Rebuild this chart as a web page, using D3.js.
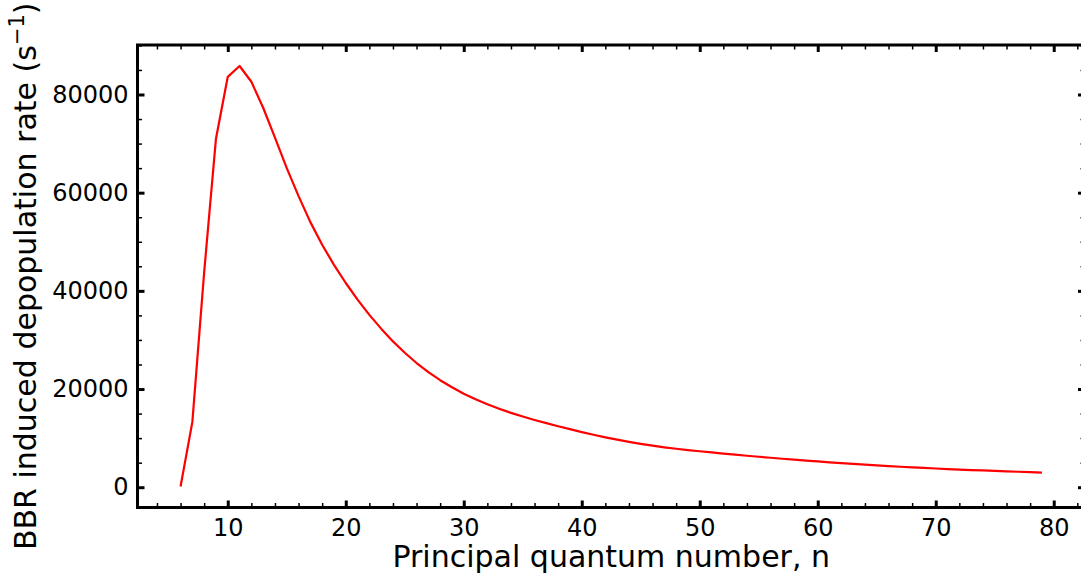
<!DOCTYPE html>
<html>
<head>
<meta charset="utf-8">
<script src="https://cdn.jsdelivr.net/npm/d3@7"></script>
<style>
  html, body { margin: 0; padding: 0; background: #fff; }
  svg { display: block; }
  text { font-family: "DejaVu Sans", sans-serif; fill: #000; }
</style>
</head>
<body>
<svg id="chart" width="1081" height="582"></svg>
<script>
// Principal quantum number n
const nValues = [
  6, 7, 8, 9, 10, 11, 12, 13, 14, 15, 16, 17, 18, 19, 20,
  21, 22, 23, 24, 25, 26, 27, 28, 29, 30, 31, 32, 33, 34, 35,
  36, 37, 38, 39, 40, 41, 42, 43, 44, 45, 46, 47, 48, 49, 50,
  51, 52, 53, 54, 55, 56, 57, 58, 59, 60, 61, 62, 63, 64, 65,
  66, 67, 68, 69, 70, 71, 72, 73, 74, 75, 76, 77, 78, 79
];
// Black-body-radiation induced depopulation rate, s^-1
const bbrRate = [
  150, 13300, 43800, 71000, 83600, 85800, 82600, 77300, 71200, 65000, 59300, 54000, 49400, 45300, 41600,
  38200, 35100, 32300, 29700, 27400, 25300, 23450, 21800, 20350, 19050, 17900, 16900, 16000, 15150, 14400,
  13700, 13050, 12420, 11820, 11230, 10680, 10160, 9690, 9240, 8830, 8460, 8130, 7830, 7560, 7320,
  7080, 6850, 6630, 6410, 6200, 6000, 5800, 5610, 5430, 5250, 5070, 4910, 4750, 4590, 4440,
  4300, 4170, 4040, 3920, 3810, 3700, 3600, 3500, 3410, 3320, 3230, 3150, 3070, 2990
];
const xMajorTicks = [10, 20, 30, 40, 50, 60, 70, 80];
const yMajorTicks = [0, 20000, 40000, 60000, 80000];
const xLabel = "Principal quantum number, n";
const yLabel = "BBR induced depopulation rate (s";
const yLabelSup = "\u22121";

const svg = d3.select("#chart");
const plotL = 137.5, plotR = 1085, plotT = 45, plotB = 507.5;

// 5% padding around the data extent on both axes
function padded(ext) {
  const p = (ext[1] - ext[0]) * 0.05;
  return [ext[0] - p, ext[1] + p];
}
const x = d3.scaleLinear().domain(padded(d3.extent(nValues))).range([plotL, plotR]);
const y = d3.scaleLinear().domain(padded(d3.extent(bbrRate))).range([plotB, plotT]);

const xMinor = d3.range(0, 84, 2).filter(v => v % 10 !== 0 && v >= x.domain()[0] && v <= x.domain()[1]);
const yMinor = d3.range(0, 95000, 5000).filter(v => v % 20000 !== 0 && v >= y.domain()[0] && v <= y.domain()[1]);

const majorLen = 7, minorLen = 4.5;

function styleTicks(g, w) {
  g.select(".domain").remove();
  g.selectAll(".tick line").attr("stroke", "#000").attr("stroke-width", w);
}

// bottom axis with labels
svg.append("g").attr("transform", `translate(0,${plotB})`)
  .call(d3.axisBottom(x).tickValues(xMajorTicks).tickSize(-majorLen).tickPadding(11).tickFormat(d3.format("d")))
  .call(g => styleTicks(g, 3))
  .call(g => g.selectAll("text").attr("font-size", 24).attr("font-family", "DejaVu Sans"));
svg.append("g").attr("transform", `translate(0,${plotB})`)
  .call(d3.axisBottom(x).tickValues(xMinor).tickSize(-minorLen).tickFormat(""))
  .call(g => styleTicks(g, 1.5));

// top axis, ticks only
svg.append("g").attr("transform", `translate(0,${plotT})`)
  .call(d3.axisTop(x).tickValues(xMajorTicks).tickSize(-majorLen).tickFormat(""))
  .call(g => styleTicks(g, 3));
svg.append("g").attr("transform", `translate(0,${plotT})`)
  .call(d3.axisTop(x).tickValues(xMinor).tickSize(-minorLen).tickFormat(""))
  .call(g => styleTicks(g, 1.5));

// left axis with labels
svg.append("g").attr("transform", `translate(${plotL},0)`)
  .call(d3.axisLeft(y).tickValues(yMajorTicks).tickSize(-majorLen).tickPadding(9).tickFormat(d3.format("d")))
  .call(g => styleTicks(g, 3))
  .call(g => g.selectAll("text").attr("font-size", 24).attr("font-family", "DejaVu Sans"));
svg.append("g").attr("transform", `translate(${plotL},0)`)
  .call(d3.axisLeft(y).tickValues(yMinor).tickSize(-minorLen).tickFormat(""))
  .call(g => styleTicks(g, 1.5));

// right axis, ticks only
svg.append("g").attr("transform", `translate(${plotR},0)`)
  .call(d3.axisRight(y).tickValues(yMajorTicks).tickSize(-majorLen).tickFormat(""))
  .call(g => styleTicks(g, 3));
svg.append("g").attr("transform", `translate(${plotR},0)`)
  .call(d3.axisRight(y).tickValues(yMinor).tickSize(-minorLen).tickFormat(""))
  .call(g => styleTicks(g, 1.5));

// data curve
const line = d3.line().x((d, i) => x(nValues[i])).y(d => y(d));
svg.append("path")
  .datum(bbrRate)
  .attr("fill", "none")
  .attr("stroke", "#ff0000")
  .attr("stroke-width", 2.2)
  .attr("stroke-linejoin", "round")
  .attr("d", line);

// frame
svg.append("rect")
  .attr("x", plotL).attr("y", plotT)
  .attr("width", plotR - plotL).attr("height", plotB - plotT)
  .attr("fill", "none").attr("stroke", "#000").attr("stroke-width", 3);

// axis titles
svg.append("text")
  .attr("x", (plotL + plotR) / 2).attr("y", 567)
  .attr("text-anchor", "middle").attr("font-size", 30)
  .text(xLabel);

const yt = svg.append("text")
  .attr("transform", `translate(36,${(plotT + plotB) / 2}) rotate(-90)`)
  .attr("text-anchor", "middle").attr("font-size", 30);
yt.append("tspan").text(yLabel);
yt.append("tspan").attr("font-size", 21).attr("dy", -12).text(yLabelSup);
yt.append("tspan").attr("dy", 12).text(")");
</script>
</body>
</html>
